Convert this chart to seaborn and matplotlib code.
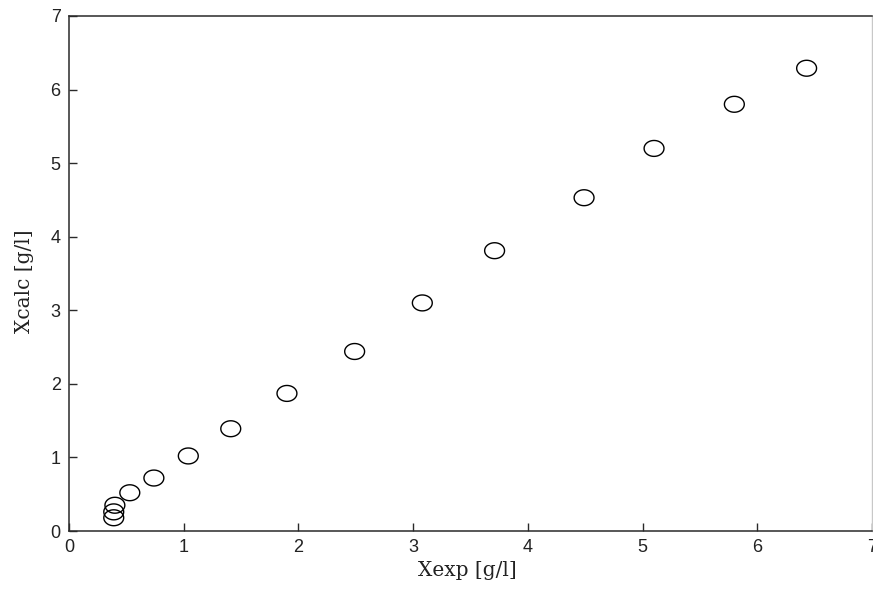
import numpy as np
import pandas as pd
import matplotlib
matplotlib.use("Agg")
import matplotlib.pyplot as plt
from matplotlib.path import Path
import seaborn as sns

# Measured vs. calculated concentration
x_exp = [0.39, 0.39, 0.40, 0.53, 0.74, 1.04, 1.41, 1.90, 2.49, 3.08, 3.71, 4.49, 5.10, 5.80, 6.43]
x_calc = [0.18, 0.26, 0.35, 0.52, 0.72, 1.02, 1.39, 1.87, 2.44, 3.10, 3.81, 4.53, 5.20, 5.80, 6.29]
ticks = [0, 1, 2, 3, 4, 5, 6, 7]

df = pd.DataFrame({"Xexp": x_exp, "Xcalc": x_calc})

sns.set_theme(style="white")
plt.rcParams["font.family"] = ["Liberation Sans", "DejaVu Sans"]

fig = plt.figure(figsize=(8.73, 5.90), dpi=100)
ax = fig.add_axes([69 / 873, 59 / 590, 803 / 873, 515 / 590])

# slightly wide open ellipse as the marker
t = np.linspace(0, 2 * np.pi, 60)
ellipse = Path(np.column_stack([np.cos(t), 0.8 * np.sin(t)]), closed=True)

sns.scatterplot(data=df, x="Xexp", y="Xcalc", ax=ax, marker=ellipse, s=205,
                facecolors="none", edgecolor="black", linewidth=1.0, legend=False)

ax.set_xlim(0, 7)
ax.set_ylim(0, 7)
ax.set_xticks(ticks)
ax.set_yticks(ticks)
ax.set_xticklabels([str(v) for v in ticks])
ax.set_yticklabels([str(v) for v in ticks])

for side in ["left", "bottom", "top"]:
    ax.spines[side].set_color("#2a2a2a")
    ax.spines[side].set_linewidth(1.1)
ax.spines["right"].set_color("#c8c8c8")
ax.spines["right"].set_linewidth(1.0)

ax.tick_params(axis="both", which="both", direction="in", length=6, width=1.0,
               color="#2a2a2a", labelsize=13, labelcolor="#222222", pad=6,
               bottom=True, left=True, top=False, right=False)

serif = ["DejaVu Serif", "Liberation Serif"]
ax.set_xlabel("Xexp [g/l]", family=serif, fontsize=14.5, color="#222222", va="top")
ax.set_ylabel("Xcalc [g/l]", family=serif, fontsize=14.5, color="#222222", va="bottom")
ax.xaxis.set_label_coords(0.496, -0.058)
ax.yaxis.set_label_coords(-0.044, 0.485)

fig.savefig("out.png", dpi=100)
